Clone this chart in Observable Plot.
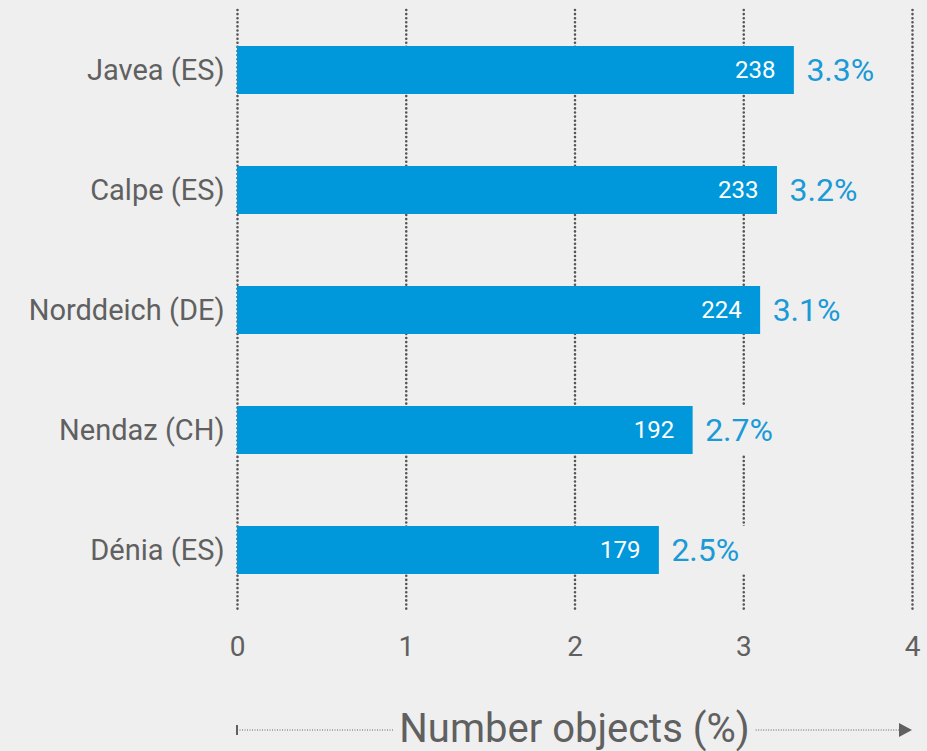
<!DOCTYPE html>
<html>
<head>
<meta charset="utf-8">
<script src="https://cdn.jsdelivr.net/npm/d3@7"></script>
<script src="https://cdn.jsdelivr.net/npm/@observablehq/plot@0.6"></script>
<style>
  html, body { margin: 0; padding: 0; background: #efefef; }
</style>
</head>
<body>
<div id="chart"></div>
<script>
const categories = ["Javea (ES)", "Calpe (ES)", "Norddeich (DE)", "Nendaz (CH)", "Dénia (ES)"];
const shares = [3.3, 3.2, 3.1, 2.7, 2.5];
const counts = [238, 233, 224, 192, 179];
const xTicks = [0, 1, 2, 3, 4];
const axisTitle = "Number objects (%)";

const data = categories.map((c, i) => ({city: c, share: shares[i], count: counts[i]}));

const bg = "#efefef";
const gray = "#606060";
const blue = "#0098da";
const pctText = d => d.share.toFixed(1) + "%";

const plot = Plot.plot({
  width: 927,
  height: 751,
  marginLeft: 237,
  marginRight: 15,
  marginTop: 10,
  marginBottom: 141,
  style: {background: bg, fontFamily: "Roboto, sans-serif", color: gray},
  x: {domain: [0, 4], ticks: xTicks},
  y: {domain: categories, paddingInner: 0.6, paddingOuter: 0.3},
  marks: [
    Plot.ruleX(xTicks, {stroke: "#555", strokeWidth: 2.6, strokeDasharray: "0,4.1", strokeLinecap: "round"}),
    // background box behind percentage labels (hides grid only)
    Plot.barX(data, {x1: "share", x2: d => d.share + 0.55, y: "city", fill: bg}),
    Plot.barX(data, {x: "share", y: "city", fill: blue}),
    Plot.text(data, {x: "share", y: "city", text: d => String(d.count), textAnchor: "end", dx: -19, fill: "white", fontSize: 24}),
    Plot.text(data, {x: "share", y: "city", text: pctText, textAnchor: "start", dx: 12, fill: "#1a9ad6", fontSize: 32}),
    Plot.axisY({tickSize: 0, tickPadding: 13, fontSize: 29, label: null}),
    Plot.axisX({ticks: xTicks, tickFormat: d3.format("d"), tickSize: 0, tickPadding: 26, fontSize: 28, label: null})
  ]
});

document.getElementById("chart").appendChild(plot);

// axis title with dotted arrow line
const xs = plot.scale("x");
const x0 = xs.apply(0), x1 = xs.apply(4);
const svg = d3.select(plot);
const ty = 730;
const g = svg.append("g");
const t = g.append("text")
  .attr("x", (x0 + x1) / 2)
  .attr("y", 742)
  .attr("text-anchor", "middle")
  .attr("font-size", 40)
  .attr("fill", gray)
  .text(axisTitle);
const bb = t.node().getBBox();
g.append("line").attr("x1", x0).attr("x2", x0).attr("y1", ty - 5).attr("y2", ty + 5)
  .attr("stroke", gray).attr("stroke-width", 2);
g.append("line").attr("x1", x0).attr("x2", bb.x - 6).attr("y1", ty).attr("y2", ty)
  .attr("stroke", gray).attr("stroke-width", 1).attr("stroke-dasharray", "1,1.5");
g.append("line").attr("x1", bb.x + bb.width + 6).attr("x2", x1 - 12).attr("y1", ty).attr("y2", ty)
  .attr("stroke", gray).attr("stroke-width", 1).attr("stroke-dasharray", "1,1.5");
g.append("path").attr("d", `M${x1 - 13},${ty - 7}L${x1},${ty}L${x1 - 13},${ty + 7}Z`).attr("fill", gray);
</script>
</body>
</html>
